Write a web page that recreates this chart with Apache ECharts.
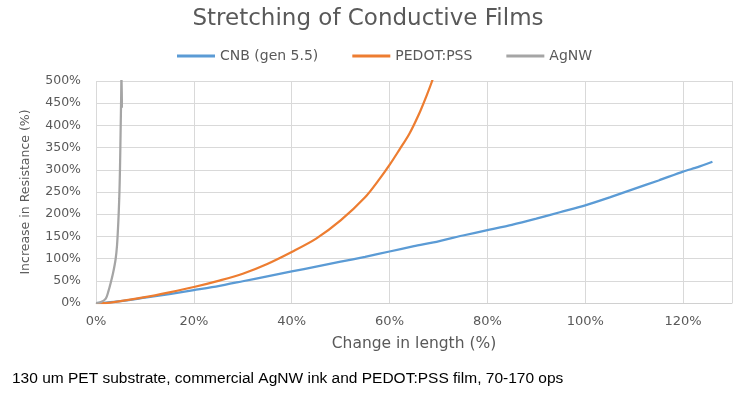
<!DOCTYPE html>
<html><head><meta charset="utf-8">
<script src="https://cdn.jsdelivr.net/npm/echarts@6/dist/echarts.min.js"></script>
<style>html,body{margin:0;padding:0;background:#fff}#c{width:736px;height:395px}</style>
</head><body><div id="c"></div>
<script>
var titleText = 'Stretching of Conductive Films';
var captionText = '130 um PET substrate, commercial AgNW ink and PEDOT:PSS film, 70-170 ops';
var seriesNames = ['CNB (gen 5.5)', 'PEDOT:PSS', 'AgNW'];
var xTicks = [0, 20, 40, 60, 80, 100, 120];
var yTicks = [0, 50, 100, 150, 200, 250, 300, 350, 400, 450, 500];

var cnbStrain = [0, 2, 5, 10, 15, 20, 25, 30, 35, 40, 45, 50, 55, 60, 65, 70, 75, 80, 85, 90, 95, 100, 105, 110, 115, 120, 123, 126];
var cnbResist = [0, 1, 4, 12, 20, 29, 38, 49, 60, 71, 82, 93, 104, 116, 128, 139, 152, 164, 176, 190, 205, 220, 238, 257, 276, 296, 306, 318];

var pedotStrain = [0, 2, 5, 10, 15, 20, 25, 30, 35, 40, 45, 50, 55, 58, 60, 62, 64, 66, 67.5, 68.7, 69.2];
var pedotResist = [0, 0, 4, 13, 24, 36, 50, 66, 88, 115, 145, 186, 238, 280, 311, 345, 380, 425, 465, 500, 520];

var agnwStrain = [0, 1, 2, 2.5, 3, 3.5, 4, 4.3, 4.55, 4.75, 4.9, 5.05, 5.15, 5.22, 5.3];
var agnwResist = [0, 2, 10, 25, 45, 68, 98, 130, 180, 235, 300, 400, 470, 530, 440];

function pairs(xs, ys) { return xs.map(function (x, i) { return [x, ys[i]]; }); }

var colors = ['#5b9bd5', '#ed7d31', '#a5a5a5'];
var fontFam = '"DejaVu Sans", "Open Sans", sans-serif';
var chart = echarts.init(document.getElementById('c'), null, {renderer: 'canvas'});
chart.setOption({
  animation: false,
  color: colors,
  title: {text: titleText, left: 'center', top: 3,
    textStyle: {fontFamily: fontFam, fontSize: 23, fontWeight: 'normal', color: '#595959'}},
  legend: {top: 44, left: 172, itemGap: 34, itemWidth: 38, itemHeight: 3, icon: 'rect',
    data: seriesNames,
    textStyle: {fontFamily: fontFam, fontSize: 14, color: '#595959'}},
  grid: {left: 96, right: 4, top: 81, bottom: 92, containLabel: false},
  xAxis: {type: 'value', min: 0, max: 130, interval: 20,
    name: 'Change in length (%)', nameLocation: 'middle', nameGap: 33,
    nameTextStyle: {fontFamily: fontFam, fontSize: 15.5, color: '#595959'},
    axisLine: {show: true, lineStyle: {color: '#d0d0d0', width: 1}},
    axisTick: {show: false},
    axisLabel: {formatter: '{value}%', showMaxLabel: false, margin: 12,
      fontFamily: fontFam, fontSize: 13, color: '#595959'},
    splitLine: {show: true, lineStyle: {color: '#d9d9d9', width: 1}}},
  yAxis: {type: 'value', min: 0, max: 500, interval: 50,
    name: 'Increase in Resistance (%)', nameLocation: 'middle', nameGap: 64,
    nameTextStyle: {fontFamily: fontFam, fontSize: 12.5, color: '#595959'},
    axisLine: {show: false}, axisTick: {show: false},
    axisLabel: {formatter: '{value}%', margin: 15, fontFamily: fontFam, fontSize: 12.5, color: '#595959'},
    splitLine: {show: true, lineStyle: {color: '#d9d9d9', width: 1}}},
  graphic: [{type: 'text', left: 12, top: 371,
    style: {text: captionText, font: '15.5px "Liberation Sans", Arial, sans-serif', fill: '#000'}}],
  series: [
    {name: seriesNames[0], type: 'line', data: pairs(cnbStrain, cnbResist), showSymbol: false, smooth: 0.2,
      lineStyle: {width: 2.25, color: colors[0]}},
    {name: seriesNames[1], type: 'line', data: pairs(pedotStrain, pedotResist), showSymbol: false, smooth: 0.3,
      lineStyle: {width: 2.25, color: colors[1]}},
    {name: seriesNames[2], type: 'line', data: pairs(agnwStrain, agnwResist), showSymbol: false, smooth: 0.3,
      lineStyle: {width: 2.25, color: colors[2]}}
  ]
});
</script></body></html>
